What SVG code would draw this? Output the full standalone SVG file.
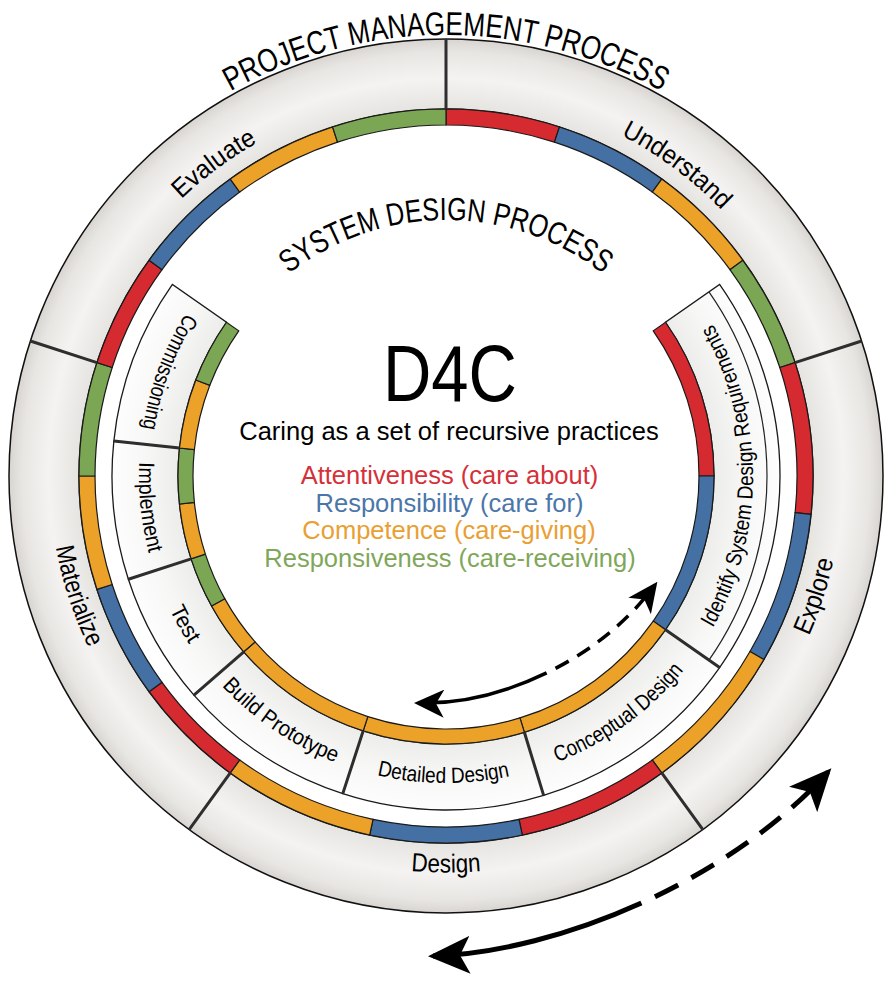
<svg xmlns="http://www.w3.org/2000/svg" xmlns:xlink="http://www.w3.org/1999/xlink" width="884" height="982" viewBox="0 0 884 982">
<defs>
<style>
.seg{stroke:#1a1a1a;stroke-width:1.2}
.r{fill:#d52a30}.b{fill:#4470a3}.o{fill:#eca229}.g{fill:#7ba653}
.box{fill:url(#gInner);stroke:#1a1a1a;stroke-width:1.3}
.div{stroke:#2e2e2e;stroke-width:3;fill:none}
.t{font-family:"Liberation Sans",Arial,sans-serif;fill:#000}
.lo{font-size:26px}
.li{font-size:22px}
.leg{font-size:25.5px;text-anchor:middle}
.arr{fill:none;stroke:#000}
</style>
<radialGradient id="gOuter" gradientUnits="userSpaceOnUse" cx="446" cy="476" r="437">
<stop offset="0.84" stop-color="#e6e4e1"/>
<stop offset="0.91" stop-color="#f4f3f1"/>
<stop offset="0.97" stop-color="#e8e6e3"/>
<stop offset="1" stop-color="#d8d5d1"/>
</radialGradient>
<radialGradient id="gInner" gradientUnits="userSpaceOnUse" cx="446" cy="476" r="334">
<stop offset="0.8" stop-color="#ececeb"/>
<stop offset="0.9" stop-color="#f7f7f6"/>
<stop offset="1" stop-color="#fdfdfd"/>
</radialGradient>
<marker id="ahS" viewBox="0 0 30 28" refX="26" refY="14" markerWidth="30" markerHeight="28" markerUnits="userSpaceOnUse" orient="auto-start-reverse"><path d="M0,0 L30,14 L0,28 L8,14 Z" fill="#000"/></marker>
<marker id="ahL" viewBox="0 0 42 38" refX="37" refY="19" markerWidth="42" markerHeight="38" markerUnits="userSpaceOnUse" orient="auto-start-reverse"><path d="M0,0 L42,19 L0,38 L10,19 Z" fill="#000"/></marker>
<path id="tp-pm" d="M134.17,164.17 A441,441 0 0 1 757.83,164.17"/>
<path id="tp-sd" d="M249.89,311.45 A256,256 0 0 1 642.11,311.45"/>
<path id="tp-und" d="M486.03,95.10 A383,383 0 0 1 795.89,320.22"/>
<path id="tp-eva" d="M96.11,320.22 A383,383 0 0 1 405.97,95.10"/>
<path id="tp-exp" d="M711.31,770.66 A396.5,396.5 0 0 0 833.84,393.56"/>
<path id="tp-des" d="M247.75,819.38 A396.5,396.5 0 0 0 644.25,819.38"/>
<path id="tp-mat" d="M58.16,393.56 A396.5,396.5 0 0 0 180.69,770.66"/>
<path id="tp-idr" d="M681.17,673.34 A307,307 0 0 0 681.17,278.66"/>
<path id="tp-con" d="M478.09,781.32 A307,307 0 0 0 726.46,600.87"/>
<path id="tp-det" d="M290.19,740.52 A307,307 0 0 0 597.17,743.20"/>
<path id="tp-bui" d="M170.07,610.58 A307,307 0 0 0 424.58,782.25"/>
<path id="tp-tes" d="M139.01,473.32 A307,307 0 0 0 290.19,740.52"/>
<path id="tp-imp" d="M165.54,351.13 A307,307 0 0 0 197.63,656.45"/>
<path id="tp-com" d="M250.72,239.11 A307,307 0 0 0 143.21,526.67"/>
</defs>
<rect width="884" height="982" fill="#fff"/>

<g id="pm-process">
<path d="M446,39 A437,437 0 1 1 446,913 A437,437 0 1 1 446,39 Z M446,109 A367,367 0 1 0 446,843 A367,367 0 1 0 446,109 Z" fill="url(#gOuter)" fill-rule="evenodd" stroke="#111" stroke-width="1.5"/>
<text class="t" font-size="33"><textPath href="#tp-pm" startOffset="50%" text-anchor="middle" textLength="450" lengthAdjust="spacingAndGlyphs">PROJECT MANAGEMENT PROCESS</textPath></text>
</g>

<g id="node-understand">
<path class="seg r" d="M446,109 A367,367 0 0 1 559.41,126.96 L554.47,142.18 A351,351 0 0 0 446,125 Z"/>
<path class="seg b" d="M559.41,126.96 A367,367 0 0 1 661.72,179.09 L652.31,192.03 A351,351 0 0 0 554.47,142.18 Z"/>
<path class="seg o" d="M661.72,179.09 A367,367 0 0 1 742.91,260.28 L729.97,269.69 A351,351 0 0 0 652.31,192.03 Z"/>
<path class="seg g" d="M742.91,260.28 A367,367 0 0 1 795.04,362.59 L779.82,367.53 A351,351 0 0 0 729.97,269.69 Z"/>
<text class="t lo"><textPath href="#tp-und" startOffset="51%" text-anchor="middle" textLength="126" lengthAdjust="spacingAndGlyphs">Understand</textPath></text>
</g>
<g id="node-explore">
<path class="seg r" d="M795.04,362.59 A367,367 0 0 1 810.99,514.36 L795.08,512.69 A351,351 0 0 0 779.82,367.53 Z"/>
<path class="seg b" d="M810.99,514.36 A367,367 0 0 1 763.83,659.5 L749.98,651.5 A351,351 0 0 0 795.08,512.69 Z"/>
<path class="seg o" d="M763.83,659.5 A367,367 0 0 1 661.72,772.91 L652.31,759.97 A351,351 0 0 0 749.98,651.5 Z"/>
<text class="t lo"><textPath href="#tp-exp" startOffset="50%" text-anchor="middle" textLength="80" lengthAdjust="spacingAndGlyphs">Explore</textPath></text>
</g>
<g id="node-design">
<path class="seg r" d="M661.72,772.91 A367,367 0 0 1 522.30,834.98 L518.98,819.33 A351,351 0 0 0 652.31,759.97 Z"/>
<path class="seg b" d="M522.30,834.98 A367,367 0 0 1 369.70,834.98 L373.02,819.33 A351,351 0 0 0 518.98,819.33 Z"/>
<path class="seg o" d="M369.70,834.98 A367,367 0 0 1 230.28,772.91 L239.69,759.97 A351,351 0 0 0 373.02,819.33 Z"/>
<text class="t lo"><textPath href="#tp-des" startOffset="50%" text-anchor="middle" textLength="70" lengthAdjust="spacingAndGlyphs">Design</textPath></text>
</g>
<g id="node-materialize">
<path class="seg r" d="M230.28,772.91 A367,367 0 0 1 149.09,691.72 L162.03,682.31 A351,351 0 0 0 239.69,759.97 Z"/>
<path class="seg b" d="M149.09,691.72 A367,367 0 0 1 96.96,589.41 L112.18,584.47 A351,351 0 0 0 162.03,682.31 Z"/>
<path class="seg o" d="M96.96,589.41 A367,367 0 0 1 79,476 L95,476 A351,351 0 0 0 112.18,584.47 Z"/>
<path class="seg g" d="M79,476 A367,367 0 0 1 96.96,362.59 L112.18,367.53 A351,351 0 0 0 95,476 Z"/>
<text class="t lo"><textPath href="#tp-mat" startOffset="50%" text-anchor="middle" textLength="106" lengthAdjust="spacingAndGlyphs">Materialize</textPath></text>
</g>
<g id="node-evaluate">
<path class="seg r" d="M96.96,362.59 A367,367 0 0 1 149.09,260.28 L162.03,269.69 A351,351 0 0 0 112.18,367.53 Z"/>
<path class="seg b" d="M149.09,260.28 A367,367 0 0 1 230.28,179.09 L239.69,192.03 A351,351 0 0 0 162.03,269.69 Z"/>
<path class="seg o" d="M230.28,179.09 A367,367 0 0 1 332.59,126.96 L337.53,142.18 A351,351 0 0 0 239.69,192.03 Z"/>
<path class="seg g" d="M332.59,126.96 A367,367 0 0 1 446,109 L446,125 A351,351 0 0 0 337.53,142.18 Z"/>
<text class="t lo"><textPath href="#tp-eva" startOffset="49%" text-anchor="middle" textLength="95" lengthAdjust="spacingAndGlyphs">Evaluate</textPath></text>
</g>
<g id="pm-dividers">
<path class="div" d="M446,109 L446,39 M795.04,362.59 L861.61,340.96 M661.72,772.91 L702.86,829.54 M230.28,772.91 L189.14,829.54 M96.96,362.59 L30.39,340.96"/>
</g>

<g id="sd-process">
<text class="t" font-size="32"><textPath href="#tp-sd" startOffset="50%" text-anchor="middle" textLength="338" lengthAdjust="spacingAndGlyphs">SYSTEM DESIGN PROCESS</textPath></text>
</g>

<g id="node-identify">
<path class="box" d="M719.60,284.42 A334,334 0 0 1 719.60,667.58 L665.53,629.72 A268,268 0 0 0 665.53,322.28 Z"/>
<path d="M708.95,291.88 A321,321 0 0 1 708.95,660.12" fill="none" stroke="#222" stroke-width="1.2"/>
<path class="seg r" d="M665.53,322.28 A268,268 0 0 1 714,476 L699,476 A253,253 0 0 0 653.24,330.88 Z"/>
<path class="seg b" d="M714,476 A268,268 0 0 1 665.53,629.72 L653.24,621.12 A253,253 0 0 0 699,476 Z"/>
<text class="t li"><textPath href="#tp-idr" startOffset="50%" text-anchor="middle" textLength="318" lengthAdjust="spacingAndGlyphs">Identify System Design Requirements</textPath></text>
</g>
<g id="node-conceptual">
<path class="box" d="M719.60,667.58 A334,334 0 0 1 543.65,795.40 L524.36,732.29 A268,268 0 0 0 665.53,629.72 Z"/>
<path class="seg o" d="M665.53,629.72 A268,268 0 0 1 524.36,732.29 L519.97,717.94 A253,253 0 0 0 653.24,621.12 Z"/>
<text class="t li"><textPath href="#tp-con" startOffset="50%" text-anchor="middle" textLength="158" lengthAdjust="spacingAndGlyphs">Conceptual Design</textPath></text>
</g>
<g id="node-detailed">
<path class="box" d="M543.65,795.40 A334,334 0 0 1 342.79,793.65 L363.18,730.88 A268,268 0 0 0 524.36,732.29 Z"/>
<path class="seg o" d="M524.36,732.29 A268,268 0 0 1 363.18,730.88 L367.82,716.62 A253,253 0 0 0 519.97,717.94 Z"/>
<text class="t li"><textPath href="#tp-det" startOffset="50%" text-anchor="middle" textLength="134" lengthAdjust="spacingAndGlyphs">Detailed Design</textPath></text>
</g>
<g id="node-build">
<path class="box" d="M342.79,793.65 A334,334 0 0 1 193.93,695.12 L243.74,651.82 A268,268 0 0 0 363.18,730.88 Z"/>
<path class="seg o" d="M363.18,730.88 A268,268 0 0 1 243.74,651.82 L255.06,641.98 A253,253 0 0 0 367.82,716.62 Z"/>
<text class="t li"><textPath href="#tp-bui" startOffset="50%" text-anchor="middle" textLength="138" lengthAdjust="spacingAndGlyphs">Build Prototype</textPath></text>
</g>
<g id="node-test">
<path class="box" d="M193.93,695.12 A334,334 0 0 1 128.35,579.21 L191.12,558.82 A268,268 0 0 0 243.74,651.82 Z"/>
<path class="seg o" d="M243.74,651.82 A268,268 0 0 1 211.60,605.93 L224.72,598.66 A253,253 0 0 0 255.06,641.98 Z"/>
<path class="seg g" d="M211.60,605.93 A268,268 0 0 1 191.12,558.82 L205.38,554.18 A253,253 0 0 0 224.72,598.66 Z"/>
<text class="t li"><textPath href="#tp-tes" startOffset="50%" text-anchor="middle" textLength="40" lengthAdjust="spacingAndGlyphs">Test</textPath></text>
</g>
<g id="node-implement">
<path class="box" d="M128.35,579.21 A334,334 0 0 1 113.83,441.09 L179.47,447.99 A268,268 0 0 0 191.12,558.82 Z"/>
<path class="seg o" d="M191.12,558.82 A268,268 0 0 1 179.47,504.01 L194.39,502.45 A253,253 0 0 0 205.38,554.18 Z"/>
<path class="seg g" d="M179.47,504.01 A268,268 0 0 1 179.47,447.99 L194.39,449.55 A253,253 0 0 0 194.39,502.45 Z"/>
<text class="t li"><textPath href="#tp-imp" startOffset="50%" text-anchor="middle" textLength="92" lengthAdjust="spacingAndGlyphs">Implement</textPath></text>
</g>
<g id="node-commissioning">
<path class="box" d="M113.83,441.09 A334,334 0 0 1 172.40,284.42 L226.47,322.28 A268,268 0 0 0 179.47,447.99 Z"/>
<path class="seg o" d="M179.47,447.99 A268,268 0 0 1 195.80,379.96 L209.80,385.33 A253,253 0 0 0 194.39,449.55 Z"/>
<path class="seg g" d="M195.80,379.96 A268,268 0 0 1 226.47,322.28 L238.76,330.88 A253,253 0 0 0 209.80,385.33 Z"/>
<text class="t li"><textPath href="#tp-com" startOffset="50%" text-anchor="middle" textLength="124" lengthAdjust="spacingAndGlyphs">Commissioning</textPath></text>
</g>
<g id="sd-dividers">
<path class="div" d="M665.53,629.72 L719.60,667.58 M524.36,732.29 L543.65,795.40 M363.18,730.88 L342.79,793.65 M243.74,651.82 L193.93,695.12 M191.12,558.82 L128.35,579.21 M179.47,447.99 L113.83,441.09"/>
</g>

<g id="center-d4c">
<text class="t" x="450" y="401" font-size="80" text-anchor="middle" textLength="134" lengthAdjust="spacingAndGlyphs">D4C</text>
<text class="t leg" x="449" y="440">Caring as a set of recursive practices</text>
<text class="t leg" x="449.5" y="484" style="fill:#d4313a">Attentiveness (care about)</text>
<text class="t leg" x="449.5" y="511.5" style="fill:#4a76a9">Responsibility (care for)</text>
<text class="t leg" x="449" y="539" style="fill:#e9a033">Competence (care-giving)</text>
<text class="t leg" x="450" y="566.5" style="fill:#7fa75a">Responsiveness (care-receiving)</text>
</g>

<g id="connectors">
<path class="arr" stroke-width="3.5" d="M418,703 C459,704 504.5,693.25 546.63,672.88" marker-start="url(#ahS)"/>
<path class="arr" stroke-width="3.5" stroke-dasharray="15 10" stroke-dashoffset="15" d="M546.63,672.88 C588.75,652.5 627.5,622.5 655,585" marker-end="url(#ahS)"/>
<path class="arr" stroke-width="5" d="M433,956 C496.5,954 570.75,935 641.38,903" marker-start="url(#ahL)"/>
<path class="arr" stroke-width="5" stroke-dasharray="26 15" stroke-dashoffset="26" d="M641.38,903 C712,871 779,826 828,772" marker-end="url(#ahL)"/>
</g>
</svg>
